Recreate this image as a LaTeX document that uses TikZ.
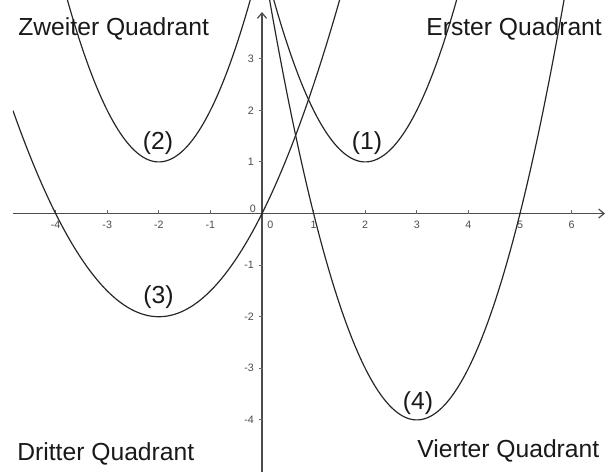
\documentclass[tikz,border=0pt]{standalone}
\usepackage{fontspec}
\setmainfont{Liberation Sans}
\usetikzlibrary{arrows.meta}
\begin{document}
\begin{tikzpicture}[x=1cm,y=1cm,
  curve/.style={line width=0.65pt,color=black!85,smooth,samples=200},
  axisline/.style={line width=0.65pt,color=black!70},
  tickmark/.style={line width=0.5pt,color=black!60},
  ticklab/.style={font=\fontsize{5.9}{7}\selectfont,text=black!70,inner sep=0pt},
  quadlab/.style={font=\fontsize{13.6}{16}\selectfont,text=black!90,inner sep=0pt,anchor=base west},
  parlab/.style={font=\fontsize{13.6}{16}\selectfont,text=black!90,inner sep=0pt}]
\useasboundingbox (-5.078,-5.010) rectangle (6.744,4.138);
\fill[white] (-5.078,-5.010) rectangle (6.744,4.138);
% axes
\coordinate (xs) at (-4.826,0);
\coordinate (xe) at (6.647,0);
\coordinate (ys) at (0,-5.010);
\coordinate (ye) at (0,3.905);
\draw[axisline,-{Straight Barb[length=3pt,width=5pt]}] (xs) -- (xe);
\draw[axisline,-{Straight Barb[length=3pt,width=5pt]}] (ys) -- (ye);
% ticks
\foreach \x in {-4,-3,-2,-1,1,2,3,4,5,6}{
  \draw[tickmark] (\x,-0.01) -- (\x,0.06);
  \node[ticklab] (tx\x) at (\x,-0.223) {\x};
}
\foreach \y in {-4,-3,-2,-1,1,2,3}{
  \draw[tickmark] (-0.06,\y) -- (0.01,\y);
  \node[ticklab,anchor=east] (ty\y) at (-0.15,\y) {\y};
}
\node[ticklab] (o1) at (-0.180,0.095) {0};
\node[ticklab] (o2) at (0.160,-0.215) {0};
% curves
\begin{scope}
\clip (-4.826,-5.010) rectangle (6.744,4.138);
\draw[curve,domain=0.18:3.82] plot (\x,{(\x-2)^2+1});
\draw[curve,domain=-3.82:-0.18] plot (\x,{(\x+2)^2+1});
\draw[curve,domain=-4.826:1.56] plot (\x,{0.5*(\x)^2+2*\x});
\draw[curve,domain=0.12:5.88] plot (\x,{(\x-3)^2-4});
\end{scope}
% labels
\node[parlab] (p1) at (2.035,1.366) {(1)};
\node[parlab] (p2) at (-2.016,1.366) {(2)};
\node[parlab] (p3) at (-2.006,-1.628) {(3)};
\node[parlab] (p4) at (3.023,-3.672) {(4)};
\node[quadlab] (q2) at (-4.729,3.459) {Zweiter Quadrant};
\node[quadlab] (q1) at (3.178,3.459) {Erster Quadrant};
\node[quadlab] (q3) at (-4.748,-4.787) {Dritter Quadrant};
\node[quadlab] (q4) at (3.004,-4.729) {Vierter Quadrant};
\end{tikzpicture}
\end{document}
